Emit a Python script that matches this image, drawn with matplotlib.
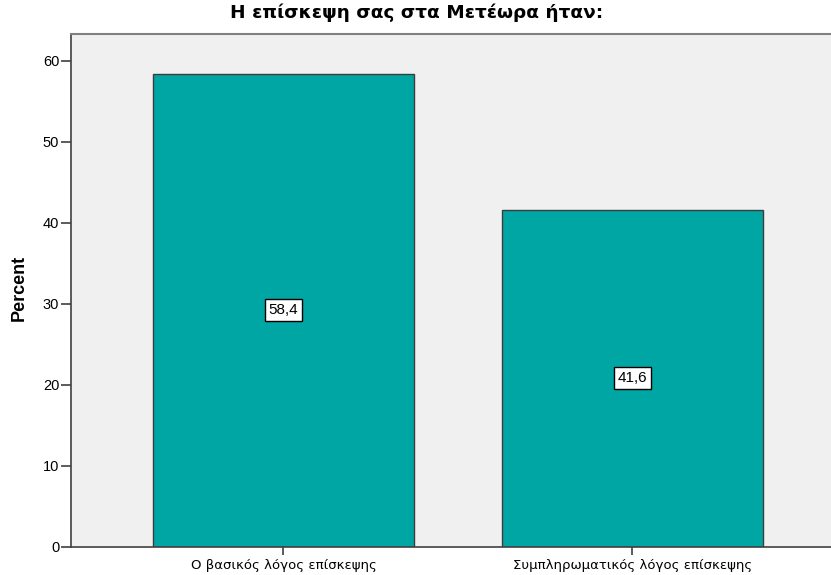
import matplotlib
matplotlib.use('Agg')
import matplotlib.pyplot as plt

plt.rcParams['font.family'] = ['Liberation Sans', 'DejaVu Sans']

categories = ['Ο βασικός λόγος επίσκεψης', 'Συμπληρωματικός λόγος επίσκεψης']
percents = [58.4, 41.6]
labels = ['58,4', '41,6']
yticks = [0, 10, 20, 30, 40, 50, 60]

fig = plt.figure(figsize=(8.31, 5.75), dpi=100)
ax = fig.add_axes([0.085, 0.0492, 0.932, 0.8917])
ax.set_facecolor('#F0F0F0')

x = list(range(len(categories)))
ax.bar(x, percents, width=0.748, color='#00A6A3', edgecolor='#3C3C3C', linewidth=1.0, zorder=2)

# value boxes in the middle of each bar
for xi, p, lab in zip(x, percents, labels):
    ax.text(xi, p / 2, lab, ha='center', va='center', fontsize=11, color='black', zorder=3,
            bbox=dict(boxstyle='square,pad=0.25', facecolor='white', edgecolor='black', linewidth=1.0))

ax.set_xlim(-0.61, 1.61)
ax.set_ylim(0, 63.3)
ax.set_xticks(x)
ax.set_xticklabels(categories, fontsize=9.5, family=['DejaVu Sans'])
ax.set_yticks(yticks)
ax.set_yticklabels([str(t) for t in yticks], fontsize=10.5)
ax.tick_params(axis='y', length=7.2, width=1.2, color='#404040', pad=1)
ax.tick_params(axis='x', length=6, width=1.2, color='#404040', pad=3)

for side in ['left', 'bottom']:
    ax.spines[side].set_color('#404040')
    ax.spines[side].set_linewidth(1.2)
ax.spines['top'].set_color('#808080')
ax.spines['top'].set_linewidth(1.5)
ax.spines['right'].set_visible(False)

fig.text(19 / 831, 0.499, 'Percent', rotation=90, ha='center', va='center',
         fontsize=13, fontweight='bold')
fig.text(0.501, 0.978, 'Η επίσκεψη σας στα Μετέωρα ήταν:', ha='center', va='center',
         fontsize=13.3, fontweight='bold', family=['DejaVu Sans'])

fig.savefig('out.png', dpi=100)
